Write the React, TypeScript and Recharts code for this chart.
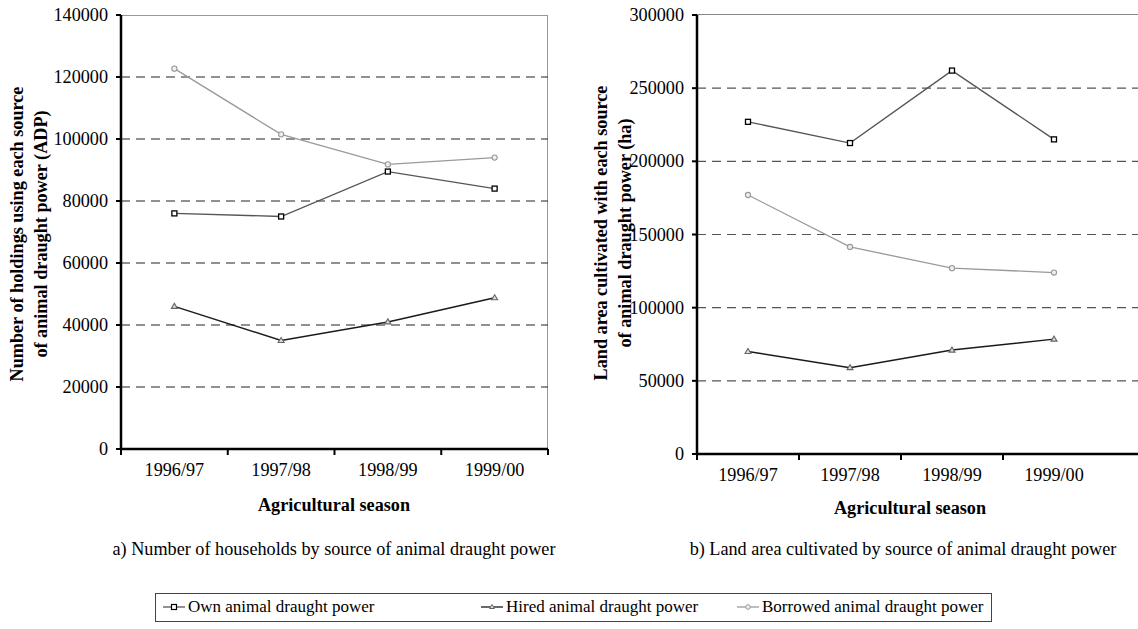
import React from "react";
import { CartesianGrid, Line, LineChart, XAxis, YAxis } from "recharts";

const seasons = ["1996/97", "1997/98", "1998/99", "1999/00"];

// a) number of holdings
const holdingsOwn = [76000, 75000, 89500, 84000];
const holdingsHired = [46000, 35000, 41000, 48800];
const holdingsBorrowed = [122700, 101500, 91800, 94000];
const holdingsTicks = [0, 20000, 40000, 60000, 80000, 100000, 120000, 140000];

// b) land area (ha)
const areaOwn = [227000, 212500, 262000, 215000];
const areaHired = [70000, 59000, 71000, 78500];
const areaBorrowed = [177000, 141500, 127000, 124000];
const areaTicks = [0, 50000, 100000, 150000, 200000, 250000, 300000];

const seriesNames = [
  "Own animal draught power",
  "Hired animal draught power",
  "Borrowed animal draught power",
];

const FONT = '"Liberation Serif", serif';
const FS = 18.2;

const holdingsData = seasons.map((s, i) => ({
  season: s,
  own: holdingsOwn[i],
  hired: holdingsHired[i],
  borrowed: holdingsBorrowed[i],
}));

const areaData = seasons.map((s, i) => ({
  season: s,
  own: areaOwn[i],
  hired: areaHired[i],
  borrowed: areaBorrowed[i],
}));

const squareDot = (p: any) => (
  <rect
    key={`sq-${p.index}`}
    x={p.cx - 2.5}
    y={p.cy - 2.5}
    width={5}
    height={5}
    fill="#fff"
    stroke="#000"
    strokeWidth={1.3}
  />
);

const triangleDot = (p: any) => (
  <polygon
    key={`tr-${p.index}`}
    points={`${p.cx},${p.cy - 3} ${p.cx - 3},${p.cy + 2} ${p.cx + 3},${p.cy + 2}`}
    fill="#ddd"
    stroke="#666"
    strokeWidth={1.1}
  />
);

const circleDot = (p: any) => (
  <circle
    key={`ci-${p.index}`}
    cx={p.cx}
    cy={p.cy}
    r={2.6}
    fill="#eee"
    stroke="#999"
    strokeWidth={1.1}
  />
);

const SeasonTick = (props: any) => {
  const { x, payload, index, axisY, bw, closeEnd } = props;
  return (
    <g>
      <line x1={x - bw / 2} x2={x - bw / 2} y1={axisY} y2={axisY + 6} stroke="#000" strokeWidth={2} />
      {closeEnd && index === seasons.length - 1 && (
        <line x1={x + bw / 2} x2={x + bw / 2} y1={axisY} y2={axisY + 6} stroke="#000" strokeWidth={2} />
      )}
      <text x={x} y={axisY + 27} textAnchor="middle" fontFamily={FONT} fontSize={FS} fill="#000">
        {payload.value}
      </text>
    </g>
  );
};

const ValueTick = (props: any) => {
  const { x, y, payload } = props;
  return (
    <text x={x} y={y + 6} textAnchor="end" fontFamily={FONT} fontSize={FS} fill="#000">
      {payload.value}
    </text>
  );
};

type PanelProps = {
  left: number;
  width: number;
  height: number;
  margin: { top: number; right: number; bottom: number; left: number };
  data: any[];
  ticks: number[];
  axisY: number;
  bw: number;
  padRight: number;
  closeEnd: boolean;
  gridColor: string;
};

function Panel({ left, width, height, margin, data, ticks, axisY, bw, padRight, closeEnd, gridColor }: PanelProps) {
  return (
    <div style={{ position: "absolute", left, top: 0, width, height }}>
      <LineChart width={width} height={height} data={data} margin={margin}>
        <CartesianGrid
          vertical={false}
          horizontalValues={ticks.slice(1, -1)}
          stroke={gridColor}
          strokeDasharray="9 6"
          strokeWidth={1.1}
        />
        <XAxis
          dataKey="season"
          scale="band"
          height={30}
          padding={{ left: 0, right: padRight }}
          axisLine={{ stroke: "#000", strokeWidth: 2.5 }}
          tickLine={false}
          tickSize={6}
          tickMargin={2}
          interval={0}
          tick={<SeasonTick axisY={axisY} bw={bw} closeEnd={closeEnd} />}
        />
        <YAxis
          width={60}
          domain={[ticks[0], ticks[ticks.length - 1]]}
          ticks={ticks}
          interval={0}
          axisLine={{ stroke: "#000", strokeWidth: 2.5 }}
          tickLine={{ stroke: "#000", strokeWidth: 2 }}
          tickSize={5}
          tickMargin={8}
          tick={<ValueTick />}
        />
        <Line
          dataKey="own"
          name={seriesNames[0]}
          stroke="#555"
          strokeWidth={1.3}
          dot={squareDot}
          isAnimationActive={false}
        />
        <Line
          dataKey="hired"
          name={seriesNames[1]}
          stroke="#1a1a1a"
          strokeWidth={1.5}
          dot={triangleDot}
          isAnimationActive={false}
        />
        <Line
          dataKey="borrowed"
          name={seriesNames[2]}
          stroke="#9a9a9a"
          strokeWidth={1.3}
          dot={circleDot}
          isAnimationActive={false}
        />
      </LineChart>
    </div>
  );
}

const text = (
  content: string,
  cx: number,
  cy: number,
  opts: { bold?: boolean; rotate?: boolean; w?: number } = {}
) => {
  const w = opts.w ?? 600;
  return (
    <div
      style={{
        position: "absolute",
        left: cx - w / 2,
        top: cy - 10,
        width: w,
        height: 20,
        lineHeight: "20px",
        textAlign: "center",
        fontFamily: FONT,
        fontSize: FS,
        fontWeight: opts.bold ? "bold" : "normal",
        whiteSpace: "nowrap",
        transform: opts.rotate ? "rotate(-90deg)" : undefined,
        transformOrigin: "center",
      }}
    >
      {content}
    </div>
  );
};

const LegendIcon = ({ kind }: { kind: number }) => {
  const colors = ["#555", "#1a1a1a", "#9a9a9a"];
  return (
    <svg width={22} height={10} style={{ verticalAlign: "middle", marginRight: 3, marginTop: -3 }}>
      <line x1={0} x2={22} y1={5} y2={5} stroke={colors[kind]} strokeWidth={1.3} />
      {kind === 0 && <rect x={8.5} y={2.5} width={5} height={5} fill="#fff" stroke="#000" strokeWidth={1.2} />}
      {kind === 1 && <polygon points="11,2.5 8.5,6.5 13.5,6.5" fill="#ddd" stroke="#666" strokeWidth={1} />}
      {kind === 2 && <circle cx={11} cy={5} r={2.3} fill="#eee" stroke="#999" strokeWidth={1} />}
    </svg>
  );
};

const legendX = [162, 480, 736];

export default function App() {
  return (
    <div style={{ position: "absolute", left: 0, top: 0, width: 1138, height: 629, background: "#fff", overflow: "hidden" }}>
      {/* plot frame of panel a */}
      <div style={{ position: "absolute", left: 121, top: 15, width: 427, height: 434, borderTop: "1.5px solid #999", borderRight: "1.5px solid #999", boxSizing: "border-box" }} />
      {/* top frame of panel b */}
      <div style={{ position: "absolute", left: 697, top: 14, width: 441, height: 0, borderTop: "1.5px solid #888" }} />

      <Panel
        left={0}
        width={580}
        height={490}
        margin={{ top: 15, right: 32, bottom: 11, left: 61 }}
        data={holdingsData}
        ticks={holdingsTicks}
        axisY={449}
        bw={427 / 4}
        padRight={0}
        closeEnd={true}
        gridColor="#222"
      />
      <Panel
        left={580}
        width={558}
        height={490}
        margin={{ top: 15, right: 0, bottom: 6, left: 57 }}
        data={areaData}
        ticks={areaTicks}
        axisY={454}
        bw={102}
        padRight={33}
        closeEnd={false}
        gridColor="#555"
      />

      {text("Number of holdings using each source", 17, 234, { bold: true, rotate: true })}
      {text("of animal draught power (ADP)", 41, 234, { bold: true, rotate: true })}
      {text("Land area cultivated with each source", 601, 233, { bold: true, rotate: true })}
      {text("of animal draught power (ha)", 625, 233, { bold: true, rotate: true })}

      {text("Agricultural season", 334, 505, { bold: true })}
      {text("Agricultural season", 910, 508, { bold: true })}

      {text("a) Number of households by source of animal draught power", 334, 549)}
      {text("b) Land area cultivated by source of animal draught power", 903, 549)}

      <div style={{ position: "absolute", left: 155, top: 593, width: 837, height: 29, border: "1px solid #444", boxSizing: "border-box" }}>
        {seriesNames.map((name, i) => (
          <div
            key={name}
            style={{
              position: "absolute",
              left: legendX[i] - 155,
              top: 3,
              height: 20,
              lineHeight: "20px",
              fontFamily: FONT,
              fontSize: 17,
              whiteSpace: "nowrap",
            }}
          >
            <LegendIcon kind={i} />
            {name}
          </div>
        ))}
      </div>
    </div>
  );
}
